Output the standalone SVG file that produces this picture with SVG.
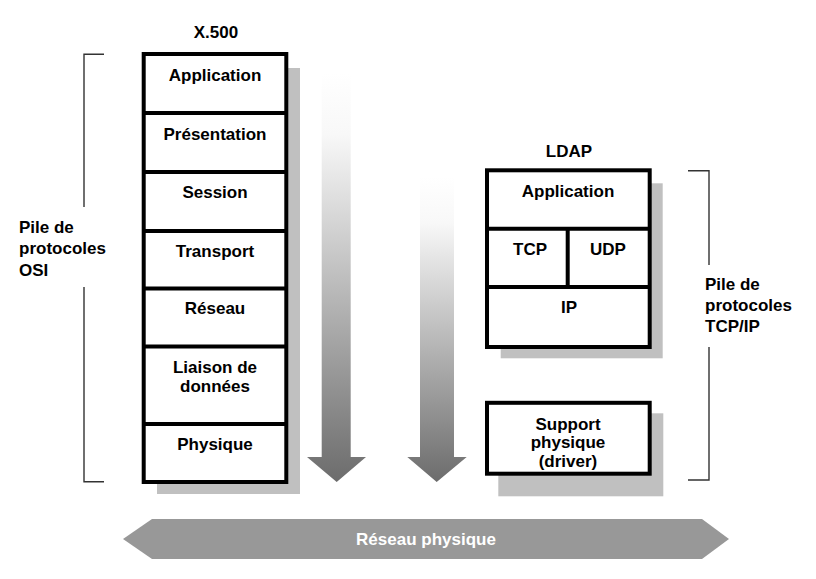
<svg xmlns="http://www.w3.org/2000/svg" width="816" height="579" viewBox="0 0 816 579">
<style>
text{font-family:"Liberation Sans",Arial,sans-serif;font-weight:bold;font-size:17px;fill:#000}
.c{text-anchor:middle}
.box{fill:#fff;stroke:#000;stroke-width:4}
.div{stroke:#000;stroke-width:4;fill:none}
.shadow{fill:#c0c0c0}
.br{stroke:#333;stroke-width:1.4;fill:none}
</style>
<defs>
<linearGradient id="g1" x1="0" y1="0" x2="0" y2="1">
<stop offset="0" stop-color="#ffffff"/>
<stop offset="0.15" stop-color="#f8f8f8"/>
<stop offset="1" stop-color="#6c6c6c"/>
</linearGradient>
</defs>
<rect width="816" height="579" fill="#fff"/>

<g id="arrows">
<polygon points="321.7,73 350.7,73 350.7,457 366,457 336.7,482 307,457 321.7,457" fill="url(#g1)"/>
<polygon points="420,177 454,177 454,457 466.7,457 436.7,482 407.3,457 420,457" fill="url(#g1)"/>
</g>

<g id="x500">
<text class="c" x="216" y="38">X.500</text>
<rect class="shadow" x="157" y="68" width="143" height="426"/>
<rect class="box" x="143.7" y="54" width="142.6" height="428"/>
<path class="div" d="M143.7 113H286.3M143.7 172H286.3M143.7 231H286.3M143.7 288.5H286.3M143.7 346.5H286.3M143.7 424H286.3"/>
<text class="c" x="215" y="81">Application</text>
<text class="c" x="215" y="139.5">Présentation</text>
<text class="c" x="215" y="197.5">Session</text>
<text class="c" x="215" y="256.5">Transport</text>
<text class="c" x="215" y="313.5">Réseau</text>
<text class="c" x="215" y="373">Liaison de</text>
<text class="c" x="215" y="392">données</text>
<text class="c" x="215" y="449.5">Physique</text>
</g>

<g id="osi-bracket">
<path class="br" d="M104 54.3H84V207M84 287V481.7H104"/>
<text x="19" y="232.5">Pile de</text>
<text x="19" y="254">protocoles</text>
<text x="19" y="275.5">OSI</text>
</g>

<g id="ldap">
<text class="c" x="569" y="157">LDAP</text>
<rect class="shadow" x="500.7" y="183.3" width="162" height="175"/>
<rect class="box" x="487" y="170.3" width="162.7" height="176.7"/>
<path class="div" d="M487 228.7H649.7M487 287H649.7M567.7 228.7V287"/>
<text class="c" x="568" y="196.7">Application</text>
<text class="c" x="530" y="255">TCP</text>
<text class="c" x="608" y="255">UDP</text>
<text class="c" x="569" y="312.5">IP</text>
</g>

<g id="support">
<rect class="shadow" x="498.3" y="413.3" width="165" height="83"/>
<rect class="box" x="487" y="402.8" width="162.7" height="70.9"/>
<text class="c" x="568" y="429.5">Support</text>
<text class="c" x="568" y="448">physique</text>
<text class="c" x="568" y="466.5">(driver)</text>
</g>

<g id="tcpip-bracket">
<path class="br" d="M688 170.7H709V265M709 347V480H688"/>
<text x="705" y="290">Pile de</text>
<text x="705" y="311">protocoles</text>
<text x="705" y="332">TCP/IP</text>
</g>

<g id="reseau">
<polygon points="123,539 152,519 702,519 729,539 702,559 152,559" fill="#989898"/>
<text class="c" x="426" y="545" style="fill:#fff">Réseau physique</text>
</g>
</svg>
